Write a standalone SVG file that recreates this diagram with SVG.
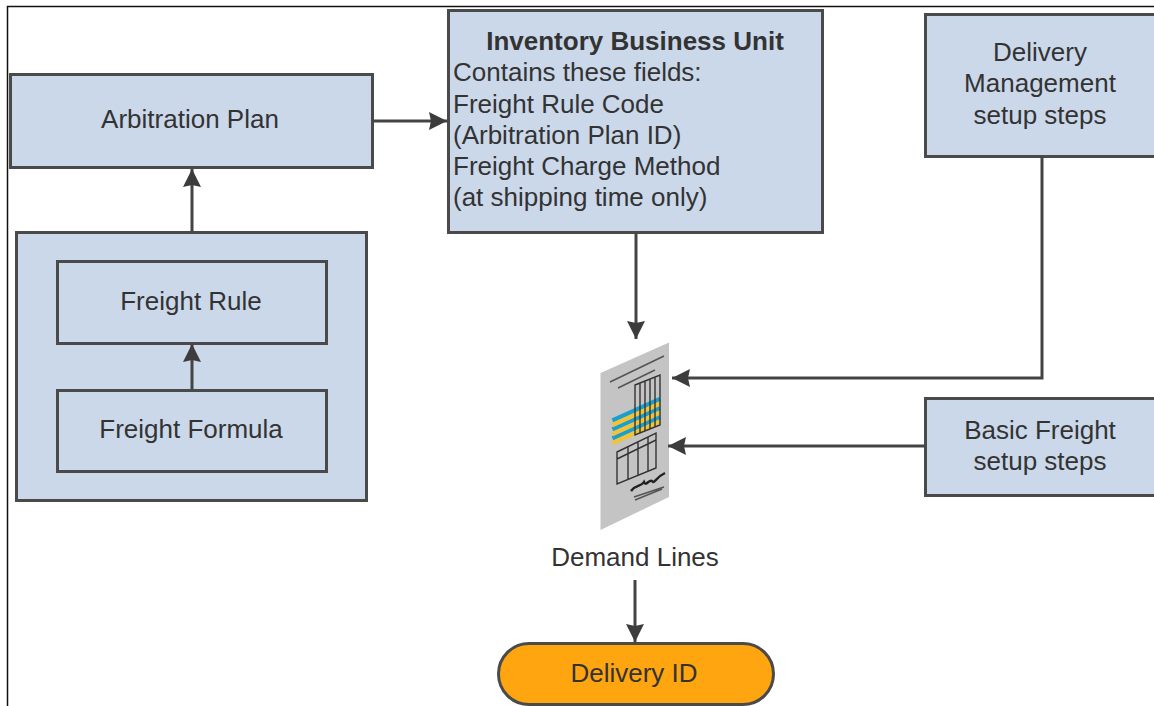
<svg xmlns="http://www.w3.org/2000/svg" width="1154" height="706" viewBox="0 0 1154 706">
<style>
text{font-family:"Liberation Sans",Arial,sans-serif;font-size:26px;fill:#333}
.c{text-anchor:middle}
.b{fill:#cbd8ea;stroke:#4a4a4a;stroke-width:3}
.w{fill:none;stroke:#444;stroke-width:3}
.d{fill:none;stroke:#333;stroke-width:1.4}
.t{fill:none;stroke:#555;stroke-width:1.6}
</style>
<defs>
<marker id="a" markerUnits="userSpaceOnUse" markerWidth="20" markerHeight="20" refX="19" refY="10" orient="auto"><path d="M1 1L19 10L1 19L3 10Z" fill="#3c3c3c"/></marker>
</defs>
<rect width="1154" height="706" fill="#fff"/>
<path d="M7.500 706V6.500H1154" fill="none" stroke="#111" stroke-width="1.500"/>
<g id="arbitration-plan"><rect class="b" x="10.500" y="74.500" width="362" height="93"/><text class="c" x="190" y="128">Arbitration Plan</text></g>
<g id="freight-group"><rect class="b" x="16.500" y="232.500" width="350" height="268"/></g>
<g id="freight-rule"><rect class="b" x="57.500" y="261.500" width="269" height="82"/><text class="c" x="191" y="310">Freight Rule</text></g>
<g id="freight-formula"><rect class="b" x="57.500" y="390.500" width="269" height="81"/><text class="c" x="191" y="438">Freight Formula</text></g>
<g id="inventory-business-unit"><rect class="b" x="448.500" y="10.500" width="374" height="222"/>
<text class="c" x="635" y="50" style="font-weight:bold">Inventory Business Unit</text>
<text x="453" y="81">Contains these fields:</text>
<text x="453" y="113">Freight Rule Code</text>
<text x="453" y="144">(Arbitration Plan ID)</text>
<text x="453" y="175">Freight Charge Method</text>
<text x="453" y="206">(at shipping time only)</text></g>
<g id="delivery-management"><rect class="b" x="925.500" y="14.500" width="240" height="142"/>
<text class="c" x="1040" y="61">Delivery</text><text class="c" x="1040" y="92">Management</text><text class="c" x="1040" y="124">setup steps</text></g>
<g id="basic-freight"><rect class="b" x="925.500" y="398.500" width="240" height="97"/>
<text class="c" x="1040" y="439">Basic Freight</text><text class="c" x="1040" y="470">setup steps</text></g>
<g id="demand-lines">
<path d="M600.500 373L669 342.500V497L600.500 530Z" fill="#c4c4c4"/>
<path class="t" d="M610 382L664 356M618 388L655 370M634 497L664 487M635 500L662 489"/>
<path d="M612.500 420.500L660 399M612.500 429.500L660 408M612.500 438.500L660 417" fill="none" stroke="#1a9fd0" stroke-width="4.500"/>
<path d="M612.500 425L660 403.500M612.500 434L660 412.500M612.500 443L660 421.500" fill="none" stroke="#f2c335" stroke-width="4.500"/>
<path class="d" d="M635 385L660 375V425L635 435ZM640 383V433M645 381V431M650 379V429M655 377V427"/>
<path class="d" d="M617 452L656 433V468L617 484ZM617 459L656 440M628 447V480M638 442V476M648 437V471"/>
<path d="M631 491C636 484 641 487 644 482C646 487 649 479 652 481C654 485 656 477 665 473" fill="none" stroke="#222" stroke-width="2.400"/>
<text class="c" x="635" y="566">Demand Lines</text></g>
<g id="delivery-id"><rect x="498.500" y="643.500" width="275" height="61" rx="30.500" fill="#ffa50f" stroke="#4a4a4a" stroke-width="3"/><text class="c" x="634" y="682">Delivery ID</text></g>
<g id="connectors">
<path class="w" d="M373 121H447" marker-end="url(#a)"/>
<path class="w" d="M192 232V169" marker-end="url(#a)"/>
<path class="w" d="M192 390V344" marker-end="url(#a)"/>
<path class="w" d="M636 233V339" marker-end="url(#a)"/>
<path class="w" d="M1042 156V378H672" marker-end="url(#a)"/>
<path class="w" d="M925 446H668" marker-end="url(#a)"/>
<path class="w" d="M635 580V642" marker-end="url(#a)"/>
</g>
</svg>
